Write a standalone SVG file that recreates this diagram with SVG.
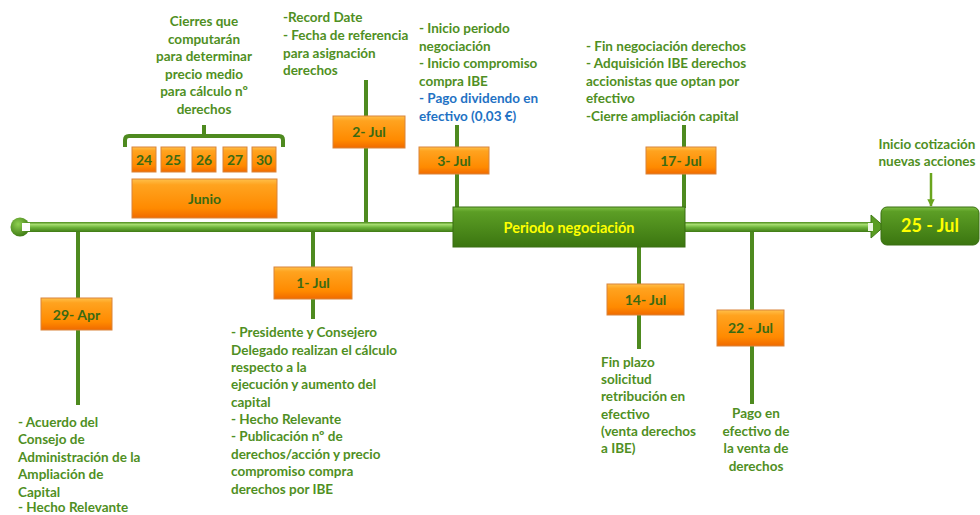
<svg xmlns="http://www.w3.org/2000/svg" width="980" height="515" viewBox="0 0 980 515">
<defs>
<linearGradient id="og" x1="0" y1="0" x2="0" y2="1">
<stop offset="0" stop-color="#ffc04a"/>
<stop offset="0.15" stop-color="#ffa31f"/>
<stop offset="0.75" stop-color="#ff8a00"/>
<stop offset="1" stop-color="#f06a00"/>
</linearGradient>
<linearGradient id="gg" x1="0" y1="0" x2="0" y2="1">
<stop offset="0" stop-color="#7ec043"/>
<stop offset="0.12" stop-color="#5c9e25"/>
<stop offset="1" stop-color="#3b7510"/>
</linearGradient>
<linearGradient id="tl" x1="0" y1="0" x2="0" y2="1">
<stop offset="0" stop-color="#4c8a1c"/>
<stop offset="0.25" stop-color="#a5dc6e"/>
<stop offset="0.55" stop-color="#6db33a"/>
<stop offset="1" stop-color="#3f7a14"/>
</linearGradient>
<radialGradient id="cg" cx="0.4" cy="0.35" r="0.7">
<stop offset="0" stop-color="#8fd050"/>
<stop offset="1" stop-color="#3c7812"/>
</radialGradient>
<marker id="ah" viewBox="0 0 10 10" refX="9" refY="5" markerWidth="3" markerHeight="3" orient="auto">
<path d="M0,0 L10,5 L0,10 z" fill="#6aa51e"/>
</marker>
</defs>
<style>
.t{font-family:Lato,"Liberation Sans",sans-serif;font-weight:bold;font-size:13.5px;fill:#4f8f23}
.b{fill:#1f72c4}
.c{text-anchor:middle}
.ob{fill:url(#og);stroke:#d9843a;stroke-width:1}
.ol{font-family:Lato,"Liberation Sans",sans-serif;font-weight:bold;font-size:14px;fill:#3a6a12;text-anchor:middle}
.gb{fill:url(#gg);stroke:#3a6f12;stroke-width:1}
.yl{font-family:Lato,"Liberation Sans",sans-serif;font-weight:bold;fill:#ffff00;text-anchor:middle}
.st{stroke:#4e8a1f;stroke-width:4;fill:none}
</style>

<g id="connectors">
<line class="st" x1="78" y1="229" x2="78" y2="405"/>
<line class="st" x1="313" y1="229" x2="313" y2="319"/>
<line class="st" x1="366" y1="80" x2="366" y2="225"/>
<line class="st" x1="457" y1="125" x2="457" y2="208"/>
<line class="st" x1="684" y1="125" x2="684" y2="208"/>
<line class="st" x1="639" y1="246" x2="639" y2="349"/>
<line class="st" x1="752" y1="229" x2="752" y2="404"/>
<path class="st" stroke-width="3" d="M125,147 V140 Q125,136 129,136 H279 Q283,136 283,140 V147 M204,136 V125"/>
<line x1="931" y1="173" x2="931" y2="206" stroke="#6aa51e" stroke-width="2.5" marker-end="url(#ah)"/>
</g>

<g id="timeline">
<rect x="22" y="222" width="852" height="10" fill="url(#tl)"/>
<path d="M871,215 L884,226.5 L871,238 Z" fill="#5a9d22" stroke="#3f7a14" stroke-width="1"/>
<rect x="868" y="223" width="5" height="8" fill="#eef7e4"/>
<circle cx="20" cy="227" r="9.5" fill="url(#cg)"/>
<rect x="22" y="223" width="8" height="8" fill="#ffffff"/>
</g>

<g id="periodo">
<rect class="gb" x="453" y="207" width="232" height="40"/>
<text class="yl" x="569" y="233" font-size="14.5">Periodo negociación</text>
</g>

<g id="jul25">
<rect class="gb" x="881" y="207" width="98" height="38" rx="6"/>
<text class="yl" x="930" y="232" font-size="18">25 - Jul</text>
</g>
<g id="jul25-note">
<text class="t c" x="927" y="149">Inicio cotización</text>
<text class="t c" x="927" y="166">nuevas acciones</text>
</g>

<g id="cierres">
<text class="t c" x="204" y="26">Cierres que</text>
<text class="t c" x="204" y="43.5">computarán</text>
<text class="t c" x="204" y="61">para determinar</text>
<text class="t c" x="204" y="78.5">precio medio</text>
<text class="t c" x="204" y="96">para cálculo nº</text>
<text class="t c" x="204" y="113.5">derechos</text>
</g>

<g id="dias">
<rect class="ob" x="132" y="147" width="24" height="25"/>
<text class="ol" x="144" y="165">24</text>
<rect class="ob" x="161" y="147" width="24" height="25"/>
<text class="ol" x="173" y="165">25</text>
<rect class="ob" x="192" y="147" width="24" height="25"/>
<text class="ol" x="204" y="165">26</text>
<rect class="ob" x="223" y="147" width="24" height="25"/>
<text class="ol" x="235" y="165">27</text>
<rect class="ob" x="252" y="147" width="24" height="25"/>
<text class="ol" x="264" y="165">30</text>
</g>
<g id="junio">
<rect class="ob" x="132" y="179" width="145" height="39"/>
<text class="ol" x="204.5" y="204">Junio</text>
</g>

<g id="apr29">
<rect class="ob" x="41" y="298" width="71" height="32"/>
<text class="ol" x="76.5" y="320" font-size="15">29- Apr</text>
<text class="t" x="18" y="426.5">-  Acuerdo del</text>
<text class="t" x="18" y="444">Consejo de</text>
<text class="t" x="18" y="461.5">Administración de la</text>
<text class="t" x="18" y="479">Ampliación de</text>
<text class="t" x="18" y="496.5">Capital</text>
<text class="t" x="18" y="512">-  Hecho Relevante</text>
</g>

<g id="jul1">
<rect class="ob" x="274" y="267" width="78" height="32"/>
<text class="ol" x="313" y="288" font-size="15">1- Jul</text>
<text class="t" x="231" y="337">- Presidente y Consejero</text>
<text class="t" x="231" y="354.5">Delegado realizan el cálculo</text>
<text class="t" x="231" y="372">respecto a la</text>
<text class="t" x="231" y="389">ejecución y aumento del</text>
<text class="t" x="231" y="406.5">capital</text>
<text class="t" x="231" y="424">- Hecho Relevante</text>
<text class="t" x="231" y="441">- Publicación nº de</text>
<text class="t" x="231" y="458.5">derechos/acción y precio</text>
<text class="t" x="231" y="476">compromiso compra</text>
<text class="t" x="231" y="493.5">derechos por IBE</text>
</g>

<g id="jul2">
<rect class="ob" x="333" y="116" width="72" height="32"/>
<text class="ol" x="369" y="137" font-size="15">2- Jul</text>
<text class="t" x="283" y="22">-Record Date</text>
<text class="t" x="283" y="40">- Fecha de referencia</text>
<text class="t" x="283" y="57.5">para asignación</text>
<text class="t" x="283" y="75">derechos</text>
</g>

<g id="jul3">
<rect class="ob" x="419" y="147" width="70" height="27"/>
<text class="ol" x="454" y="166" font-size="15">3- Jul</text>
<text class="t" x="419" y="33">- Inicio periodo</text>
<text class="t" x="419" y="50.5">negociación</text>
<text class="t" x="419" y="68">- Inicio compromiso</text>
<text class="t" x="419" y="85.5">compra IBE</text>
<text class="t b" x="419" y="103">- Pago dividendo en</text>
<text class="t b" x="419" y="121">efectivo (0,03 €)</text>
</g>

<g id="jul17">
<rect class="ob" x="646" y="147" width="70" height="27"/>
<text class="ol" x="681" y="166" font-size="15">17- Jul</text>
<text class="t" x="586" y="50.5">- Fin negociación derechos</text>
<text class="t" x="586" y="68">- Adquisición IBE derechos</text>
<text class="t" x="586" y="85.5">accionistas que optan por</text>
<text class="t" x="586" y="103">efectivo</text>
<text class="t" x="586" y="120.5">-Cierre ampliación capital</text>
</g>

<g id="jul14">
<rect class="ob" x="607" y="284" width="77" height="31"/>
<text class="ol" x="645.5" y="305" font-size="15">14- Jul</text>
<text class="t" x="601" y="366.5">Fin plazo</text>
<text class="t" x="601" y="383.5">solicitud</text>
<text class="t" x="601" y="401">retribución en</text>
<text class="t" x="601" y="418.5">efectivo</text>
<text class="t" x="601" y="436">(venta derechos</text>
<text class="t" x="601" y="453">a IBE)</text>
</g>

<g id="jul22">
<rect class="ob" x="717" y="310" width="67" height="36"/>
<text class="ol" x="750.5" y="333" font-size="15">22 - Jul</text>
<text class="t c" x="756" y="418">Pago en</text>
<text class="t c" x="756" y="435.5">efectivo de</text>
<text class="t c" x="756" y="453">la venta de</text>
<text class="t c" x="756" y="470.5">derechos</text>
</g>
</svg>
